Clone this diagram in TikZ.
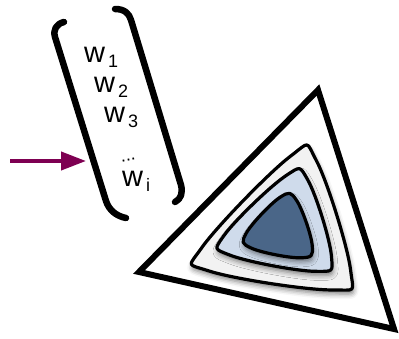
\documentclass[tikz,border=0pt]{standalone}
\usepackage{fontspec}
\setmainfont{Liberation Sans}
\usetikzlibrary{arrows.meta,calc,shadows.blur}
\definecolor{arrowpurple}{HTML}{7E0052}
\definecolor{ringgray}{HTML}{F2F2F2}
\definecolor{ringblue}{HTML}{CFDBEB}
\definecolor{coreblue}{HTML}{4A6688}
\tikzset{
  wlab/.style={anchor=base west,inner sep=0pt,font=\fontsize{29}{29}\selectfont},
  bracketline/.style={line width=6.5pt,line cap=round,line join=round},
  contour/.style={line width=3.2pt,line join=round,
    blur shadow={shadow xshift=1pt,shadow yshift=-4pt,shadow blur radius=5pt,shadow opacity=50}},
  simplex/.style={line width=6pt,line join=miter},
  feedarrow/.style={draw=arrowpurple,line width=4pt,-{Triangle[length=25pt,width=18pt]}}
}
\newcommand{\wsub}[1]{w\hspace{3pt}\raisebox{-5pt}{\fontsize{18}{18}\selectfont #1}}
\newcommand{\roundtri}[4]{% prefix, fraction, fill, tension
  \coordinate (#1a) at ($(#11)!#2!(#12)$);
  \coordinate (#1b) at ($(#12)!#2!(#11)$);
  \coordinate (#1c) at ($(#12)!#2!(#13)$);
  \coordinate (#1d) at ($(#13)!#2!(#12)$);
  \coordinate (#1e) at ($(#13)!#2!(#11)$);
  \coordinate (#1f) at ($(#11)!#2!(#13)$);
  \draw[contour,fill=#3] plot[smooth cycle,tension=#4] coordinates {(#1a) (#1b) (#1c) (#1d) (#1e) (#1f)};
}
\begin{document}
\begin{tikzpicture}[x=1pt,y=-1pt]
\useasboundingbox (0,0) rectangle (399,339);
% simplex triangle
\coordinate (T1) at (318,90);
\coordinate (T2) at (139,272);
\coordinate (T3) at (394,329);
\draw[simplex] (T1) -- (T2) -- (T3) -- cycle;
% contours
\coordinate (A1) at (309,137);
\coordinate (A2) at (183,267);
\coordinate (A3) at (358,294);
\coordinate (B1) at (301.7,160.4);
\coordinate (B2) at (208,251);
\coordinate (B3) at (337.5,275.5);
\coordinate (C1) at (291.4,185.3);
\coordinate (C2) at (235,245);
\coordinate (C3) at (317.5,261);
\roundtri{A}{0.15}{ringgray}{0.65}
\roundtri{B}{0.17}{ringblue}{0.65}
\roundtri{C}{0.2}{coreblue}{0.65}
% brackets
\draw[bracketline] (64,22) .. controls (56,24) and (53,30) .. (55,37) -- (106,201) .. controls (109,210) and (116,216) .. (126,218);
\draw[bracketline] (115,9) .. controls (124,9) and (129,13) .. (131,20) -- (181,185) .. controls (183,193) and (181,199) .. (175,202);
% weights
\node[wlab] (w1) at (84,63) {\wsub{1}};
\node[wlab] (w2) at (94,93) {\wsub{2}};
\node[wlab] (w3) at (104,123) {\wsub{3}};
\node[inner sep=0pt,rotate=12,font=\fontsize{18}{18}\selectfont] (dots) at (128.5,160) {...};
\node[wlab] (wi) at (122,187) {\wsub{i}};
% arrow
\coordinate (arrS) at (10,161);
\coordinate (arrE) at (86,161);
\draw[feedarrow] (arrS) -- (arrE);
\end{tikzpicture}
\end{document}
